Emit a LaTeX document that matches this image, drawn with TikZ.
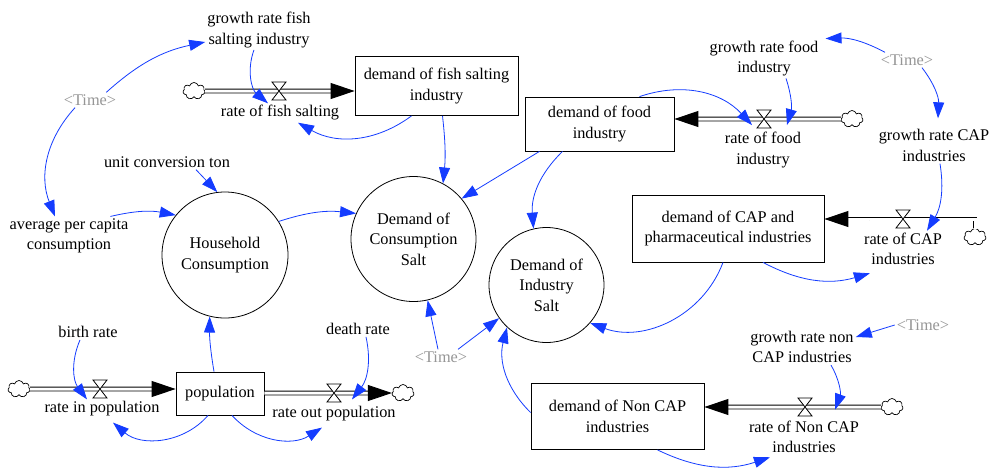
\documentclass[tikz,border=0pt]{standalone}
\usepackage{fontspec}
\setmainfont{Liberation Serif}
\usetikzlibrary{arrows.meta}
\usetikzlibrary{shapes.symbols}
\definecolor{linkblue}{RGB}{20,60,255}
\definecolor{shadowgray}{RGB}{150,150,150}
\newcommand{\vfont}{\fontsize{16.3}{20.5}\selectfont}
\tikzset{
	stock/.style={draw, rectangle, line width=0.8pt, inner sep=0pt, align=center, font=\vfont},
	converter/.style={circle, draw, line width=0.8pt, inner sep=0pt, align=center, font=\vfont},
	auxiliary/.style={inner sep=2pt, align=center, font=\vfont},
	shadow/.style={auxiliary, text=shadowgray},
	link/.style={draw=linkblue, line width=0.8pt, -{Triangle[length=16pt,width=11pt]}},
	pipe/.style={double=white, double distance=3pt, line width=0.9pt, -{Triangle[length=24pt,width=16pt]}},
	pipewall/.style={line width=4.8pt},
	pipecore/.style={white, line width=3pt},
	source/.style={cloud, cloud puffs=7, aspect=1.2, draw, fill=white, line width=0.7pt, minimum width=22pt, minimum height=17pt, inner sep=0pt},
	valve/.pic={\draw[line width=0.8pt, fill=white] (-7,9) -- (7,9) -- (-7,-9) -- (7,-9) -- cycle;}
}
\begin{document}
\begin{tikzpicture}[x=1pt, y=1pt]
	\fill[white] (0,0) rectangle (995,-467);
	\useasboundingbox (0,0) rectangle (995,-467);
	% valves
	\coordinate (fishValve) at (279,-91);
	\coordinate (foodValve) at (764,-119);
	\coordinate (capValve) at (903,-219);
	\coordinate (capBend) at (975,-219);
	\coordinate (popInValve) at (100,-389);
	\coordinate (popOutValve) at (334,-393);
	\coordinate (nonCapValve) at (805,-407);
	% clouds
	\node[source] (fishCloud) at (194,-91) {};
	\node[source] (foodCloud) at (852,-119) {};
	\node[source] (capCloud) at (975,-237) {};
	\node[source] (popInCloud) at (19,-389) {};
	\node[source] (popOutCloud) at (403,-393) {};
	\node[source] (nonCapCloud) at (892,-407) {};
	% stocks
	\node[stock, minimum width=163pt, minimum height=59pt] (fishDemand) at (436.5,-86) {demand of fish salting\\industry};
	\node[stock, minimum width=149pt, minimum height=54pt] (foodDemand) at (599.5,-124) {demand of food\\industry};
	\node[stock, minimum width=192pt, minimum height=67pt] (capDemand) at (728,-228.5) {demand of CAP and\\pharmaceutical industries};
	\node[stock, minimum width=88pt, minimum height=43pt] (population) at (220,-393.5) {population};
	\node[stock, minimum width=173pt, minimum height=66pt] (nonCapDemand) at (617.5,-416.5) {demand of Non CAP\\industries};
	% circles
	\node[converter, minimum size=126pt] (householdCons) at (225,-255) {Household\\Consumption};
	\node[converter, minimum size=125pt] (consumptionSalt) at (413.5,-239) {Demand of\\Consumption\\Salt};
	\node[converter, minimum size=115pt] (industrySalt) at (546.5,-285) {Demand of\\Industry\\Salt};
	% pipes
	\draw[pipe] (fishCloud.east) -- (fishValve -| fishDemand.west);
	\draw[pipe] (foodCloud.west) -- (foodValve -| foodDemand.east);
	\draw[pipewall] (capCloud.north) -- (capBend) -- ([xshift=40pt]capValve -| capDemand.east);
	\draw[pipecore] ([yshift=-1pt]capCloud.north) -- (capBend) -- ([xshift=40pt]capValve -| capDemand.east);
	\draw[pipe] ([xshift=45pt]capValve -| capDemand.east) -- (capValve -| capDemand.east);
	\draw[pipe] (popInCloud.east) -- (popInValve -| population.west);
	\draw[pipe] (popOutValve -| population.east) -- (popOutCloud.west);
	\draw[pipe] (nonCapCloud.west) -- (nonCapValve -| nonCapDemand.east);
	\pic at (fishValve) {valve};
	\pic at (foodValve) {valve};
	\pic at (capValve) {valve};
	\pic at (popInValve) {valve};
	\pic at (popOutValve) {valve};
	\pic at (nonCapValve) {valve};
	% flow labels
	\node[auxiliary] (fishRate) at (280,-113) {rate of fish salting};
	\node[auxiliary] (foodRate) at (763,-150) {rate of food\\industry};
	\node[auxiliary] (capRate) at (903,-249) {rate of CAP\\industries};
	\node[auxiliary] (popInRate) at (102,-409) {rate in population};
	\node[auxiliary] (popOutRate) at (334,-414) {rate out population};
	\node[auxiliary] (nonCapRate) at (804,-437) {rate of Non CAP\\industries};
	% auxiliaries
	\node[auxiliary] (fishGrowth) at (259,-30) {growth rate fish\\salting industry};
	\node[shadow] (timeA) at (90,-100) {<Time>};
	\node[auxiliary] (avgConsumption) at (69,-236) {average per capita\\consumption};
	\node[auxiliary] (unitTon) at (167,-162) {unit conversion ton};
	\node[auxiliary] (birthRate) at (88,-332) {birth rate};
	\node[auxiliary] (deathRate) at (358,-329) {death rate};
	\node[shadow] (timeB) at (441,-357) {<Time>};
	\node[auxiliary] (foodGrowth) at (764,-58.5) {growth rate food\\industry};
	\node[shadow] (timeC) at (907,-60) {<Time>};
	\node[auxiliary] (capGrowth) at (934,-145.5) {growth rate CAP\\industries};
	\node[shadow] (timeD) at (923,-325) {<Time>};
	\node[auxiliary] (nonCapGrowth) at (802,-347) {growth rate non\\CAP industries};
	% links
	\draw[link] ([xshift=-12pt]timeA.north east) to[bend left=15] ([yshift=-12pt]fishGrowth.west);
	\draw[link] ([xshift=-15pt]timeA.south) to[bend right=32] ([xshift=-14pt]avgConsumption.north);
	\draw[link] ([xshift=-5pt]fishGrowth.south) to[bend right=35] ([xshift=-12pt]fishRate.north);
	\draw[link] ([xshift=-25pt]fishDemand.south) to[bend left=33] ([xshift=18pt]fishRate.south);
	\draw[link] ([xshift=6pt]fishDemand.south) to[bend left=6] (consumptionSalt.62);
	\draw[link] ([xshift=-60pt]foodDemand.south) -- (consumptionSalt.40);
	\draw[link] ([xshift=-37pt]foodDemand.south) to[bend right=25] (industrySalt.103);
	\draw[link] ([xshift=40pt]foodDemand.north) to[bend left=33] ([xshift=-11pt,yshift=5pt]foodRate.north);
	\draw[link] ([xshift=22pt]foodGrowth.south) to[bend left=17] ([xshift=24pt,yshift=5pt]foodRate.north);
	\draw[link] ([xshift=-22pt]timeC.north) to[bend right=15] ([xshift=5pt]foodGrowth.north east);
	\draw[link] ([xshift=15pt]timeC.south) to[bend left=20] ([xshift=4pt,yshift=9pt]capGrowth.north);
	\draw[link] ([xshift=6pt]capGrowth.south) to[bend left=20] ([xshift=24pt]capRate.north);
	\draw[link] ([xshift=35pt]capDemand.south) to[bend right=22] ([xshift=8pt,yshift=-6pt]capRate.south west);
	\draw[link] ([xshift=-5pt]capDemand.south) to[bend left=45] (industrySalt.-41);
	\draw[link] (householdCons.32) to[bend left=12] (consumptionSalt.156);
	\draw[link] ([xshift=-20pt]avgConsumption.north east) to[bend left=12] (householdCons.141);
	\draw[link] ([xshift=29pt]unitTon.south) -- (householdCons.97);
	\draw[link] ([xshift=-6pt]population.north) to[bend left=5] (householdCons.256);
	\draw[link] ([xshift=-8pt]birthRate.south) to[bend right=30] ([xshift=-15pt]popInRate.north);
	\draw[link] ([xshift=-12pt]population.south) to[bend left=45] ([xshift=11pt,yshift=-4pt]popInRate.south);
	\draw[link] ([xshift=12pt]population.south) to[bend right=40] ([xshift=-12pt,yshift=-4pt]popOutRate.south);
	\draw[link] ([xshift=8pt]deathRate.south) to[bend left=25] ([xshift=18pt,yshift=5pt]popOutRate.north);
	\draw[link] ([xshift=-3pt]timeB.north) -- (consumptionSalt.-77);
	\draw[link] ([xshift=17pt]timeB.north) -- (industrySalt.215);
	\draw[link] ([yshift=4pt]nonCapDemand.west) to[bend left=30] (industrySalt.227);
	\draw[link] (timeD.west) -- ([yshift=10pt]nonCapGrowth.east);
	\draw[link] ([xshift=29pt]nonCapGrowth.south) to[bend left=25] ([xshift=31pt,yshift=9pt]nonCapRate.north);
	\draw[link] ([xshift=40pt]nonCapDemand.south) to[bend right=22] ([xshift=-34pt,yshift=-2pt]nonCapRate.south);
\end{tikzpicture}
\end{document}
